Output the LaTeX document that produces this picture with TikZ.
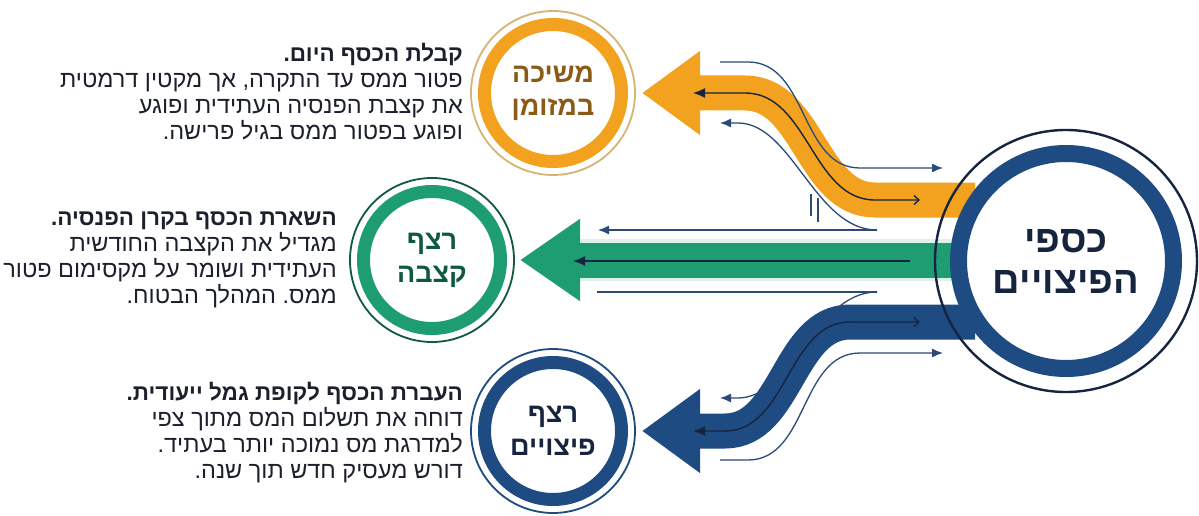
\documentclass[tikz,border=0pt]{standalone}
\usepackage{fontspec}
\setmainfont{Liberation Sans}
\newfontfamily\hebfont[Script=Hebrew]{Liberation Sans}
\TeXXeTstate=1
\frenchspacing
\usetikzlibrary{arrows.meta,calc,positioning}

\definecolor{orng}{RGB}{242,162,30}
\definecolor{orngdk}{RGB}{138,90,22}
\definecolor{orngrim}{RGB}{214,180,116}
\definecolor{grn}{RGB}{30,157,114}
\definecolor{grndk}{RGB}{15,90,63}
\definecolor{nvy}{RGB}{30,76,130}
\definecolor{nvydk}{RGB}{22,36,62}
\definecolor{lnblue}{RGB}{44,74,120}
\definecolor{inkdk}{RGB}{28,32,44}

\newcommand{\rl}[1]{\beginR #1\endR}
\newcommand{\ttl}[1]{{\bfseries\fontsize{22.5}{26}\selectfont\rl{#1}}}

\begin{document}
\begin{tikzpicture}[x=1pt,y=-1pt,
		band/.style={line width=35pt},
		thinline/.style={draw=lnblue,line width=1.3pt},
		midline/.style={draw=nvydk,line width=1.4pt},
		small ring/.style={circle,draw,fill=white,line width=13pt,minimum size=137pt,
			inner sep=0pt,align=center,font=\hebfont\bfseries\fontsize{27}{33}\selectfont},
		hub ring/.style={circle,draw=nvy,fill=white,line width=17pt,minimum size=215pt,
			inner sep=0pt,align=center,text=nvydk,font=\hebfont\bfseries\fontsize{38}{41}\selectfont},
		info/.style={anchor=north east,align=right,inner sep=0pt,text=inkdk,
			font=\hebfont\fontsize{23.5}{26}\selectfont}]
	\fill[white] (0,0) rectangle (1199,516);
	\useasboundingbox (0,0) rectangle (1199,516);
	% end points of the three bands
	\coordinate (oA) at (975,200);
	\coordinate (oB) at (642,93);
	\coordinate (gA) at (1000,260);
	\coordinate (gB) at (520,260);
	\coordinate (bA) at (975,322);
	\coordinate (bB) at (642,431);
	% bands
	\draw[band,orng,-{Triangle[length=58pt,width=80pt]}] (oA) -- (875,200)
		.. controls (812,200) and (808,93) .. (745,93) -- (oB);
	\draw[line width=42pt,grn!14] (gA) -- (575,260);
	\draw[band,grn,-{Triangle[length=60pt,width=78pt]}] (gA) -- (gB);
	\draw[band,nvy,-{Triangle[length=58pt,width=80pt]}] (bA) -- (850,322)
		.. controls (788,322) and (787,431) .. (725,431) -- (bB);
	% lines inside the bands
	\draw[midline,{Straight Barb[length=5pt,width=9pt]}-{Latex[length=12pt,width=10pt]}]
		(920,200) -- (875,200) .. controls (812,200) and (808,93) .. (745,93) -- (693,93);
	\draw[midline,-{Latex[length=12pt,width=10pt]}] (910,261) -- (573,261);
	\draw[midline,{Straight Barb[length=5pt,width=9pt]}-{Latex[length=12pt,width=10pt]}]
		(920,322) -- (850,322) .. controls (788,322) and (787,431) .. (725,431) -- (693,431);
	% thin lines round the bands
	\draw[thinline,-{Latex[length=11pt,width=9pt]}] (720,62) -- (748,62)
		.. controls (808,62) and (800,168) .. (860,168) -- (943,168);
	\draw[thinline,-{Latex[length=11pt,width=9pt]}] (877,230)
		.. controls (815,230) and (792,123) .. (738,123) -- (720,123);
	\draw[thinline] (811,194) -- (811,216);
	\draw[thinline] (818,198) -- (818,222);
	\draw[thinline,-{Latex[length=11pt,width=9pt]}] (877,230) -- (598,230);
	\draw[thinline] (877,292) -- (597,292);
	\draw[thinline,-{Latex[length=11pt,width=9pt]}] (877,292)
		.. controls (815,292) and (792,398) .. (738,398) -- (720,398);
	\draw[thinline,-{Latex[length=11pt,width=9pt]}] (720,460) -- (748,460)
		.. controls (808,460) and (800,353) .. (860,353) -- (943,353);
	% hub
	\node[hub ring] (hub) at (1066,261) {\rl{כספי}\\\rl{הפיצויים}};
	\draw[nvydk,line width=2.4pt] (hub.center) circle[radius=131];
	% three outcomes
	\node[small ring,draw=orng,text=orngdk] (msk) at (553,93) {\rl{משיכה}\\\rl{במזומן}};
	\draw[orngrim,line width=1.8pt] (msk.center) circle[radius=82];
	\node[small ring,draw=grn,text=grndk] (kzb) at (432,260) {\rl{רצף}\\\rl{קצבה}};
	\draw[grndk,line width=1.8pt] (kzb.center) circle[radius=82];
	\node[small ring,draw=nvy,text=nvydk] (pzy) at (553,431) {\rl{רצף}\\\rl{פיצויים}};
	\draw[nvy,line width=1.8pt] (pzy.center) circle[radius=82];
	% texts
	\node[info] (t1) at (463,43) {\ttl{קבלת הכסף היום.}\\
		\rl{פטור ממס עד התקרה, אך מקטין דרמטית}\\
		\rl{את קצבת הפנסיה העתידית ופוגע}\\
		\rl{ופוגע בפטור ממס בגיל פרישה.}};
	\node[info] (t2) at (337,212) {\ttl{השארת הכסף בקרן הפנסיה.}\\
		\rl{מגדיל את הקצבה החודשית}\\
		\rl{העתידית ושומר על מקסימום פטור}\\
		\rl{ממס. המהלך הבטוח.}};
	\node[info] (t3) at (463,382) {\ttl{העברת הכסף לקופת גמל ייעודית.}\\
		\rl{דוחה את תשלום המס מתוך צפי}\\
		\rl{למדרגת מס נמוכה יותר בעתיד.}\\
		\rl{דורש מעסיק חדש תוך שנה.}};
\end{tikzpicture}
\end{document}
